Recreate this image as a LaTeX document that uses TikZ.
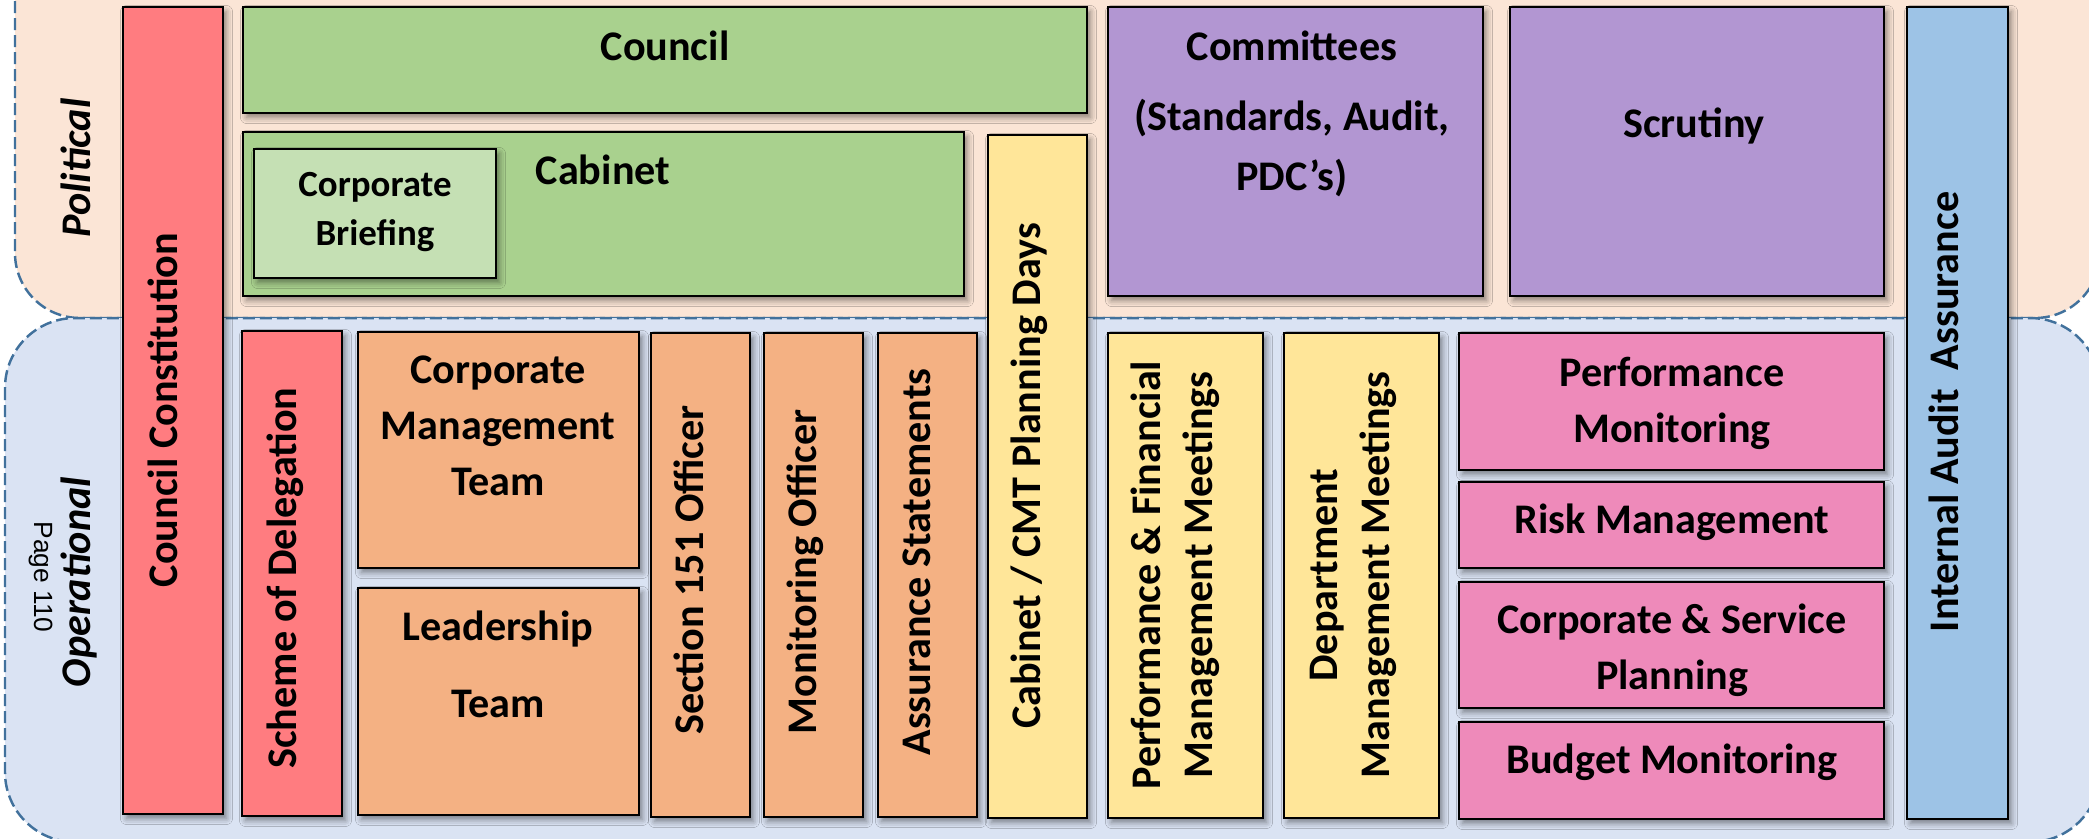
\documentclass[tikz,border=0pt]{standalone}
\usepackage{fontspec}
\setmainfont{Carlito}
\newfontfamily\pagefont{Liberation Sans}
\usetikzlibrary{fit,shadows.blur}
\frenchspacing

\definecolor{polfill}{RGB}{251,229,214}
\definecolor{opfill}{RGB}{218,227,243}
\definecolor{regionline}{RGB}{65,113,156}
\definecolor{redbox}{RGB}{255,124,128}
\definecolor{greenbox}{RGB}{169,209,142}
\definecolor{lightgreen}{RGB}{197,224,180}
\definecolor{purplebox}{RGB}{178,150,210}
\definecolor{yellowbox}{RGB}{255,230,153}
\definecolor{orangebox}{RGB}{244,177,131}
\definecolor{pinkbox}{RGB}{238,138,186}
\definecolor{bluebox}{RGB}{157,195,230}

\tikzset{
  govbox/.style={draw=black, line width=0.7pt, inner sep=0pt,
    blur shadow={shadow xshift=0.35mm, shadow yshift=-0.45mm, shadow blur radius=0.6mm, shadow opacity=45}},
  boxlabel/.style={font=\fontsize{12}{16}\selectfont\bfseries, anchor=base, align=flush center, inner sep=0pt},
  sidelabel/.style={font=\fontsize{12}{14}\selectfont\bfseries\itshape, anchor=base, inner sep=0pt},
  region/.style={draw=regionline, line width=0.7pt, dash pattern=on 1.2mm off 0.5mm},
}

\begin{document}
\begin{tikzpicture}[x=0.1mm, y=-0.1mm]
	\useasboundingbox (0,0) rectangle (2089,838);
	
	% political and operational bands
	\path[region, fill=polfill, rounded corners=6.5mm] (15,-200) rectangle (2100,318);
	\path[region, fill=opfill, rounded corners=7mm] (5,318) rectangle (2100,842);
	
	\node[sidelabel, rotate=90] (political) at (90,168) {Political};
	\node[sidelabel, rotate=90] (operational) at (90,582) {Operational};
	\node[font=\pagefont\fontsize{7.5}{9}\selectfont, rotate=-90, anchor=base, inner sep=0pt] (pageno) at (34,577) {Page 110};
	
	% full height columns
	\node[govbox, fill=redbox, fit={(123,7) (223,814)}] (constitution) {};
	\node[govbox, fill=yellowbox, fit={(988,135) (1087,818)}] (planning) {};
	\node[govbox, fill=bluebox, fit={(1907,7) (2008,819)}] (audit) {};
	
	% political boxes
	\node[govbox, fill=greenbox, fit={(243,7) (1087,113)}] (council) {};
	\node[govbox, fill=greenbox, fit={(243,132) (964,296)}] (cabinet) {};
	\node[govbox, fill=lightgreen, fit={(254,149) (496,278)}] (briefing) {};
	\node[govbox, fill=purplebox, fit={(1108,7) (1483,296)}] (committees) {};
	\node[govbox, fill=purplebox, fit={(1510,7) (1884,296)}] (scrutiny) {};
	
	% operational boxes
	\node[govbox, fill=redbox, fit={(242,331) (342,816)}] (delegation) {};
	\node[govbox, fill=orangebox, fit={(358,332) (639,568)}] (cmt) {};
	\node[govbox, fill=orangebox, fit={(358,588) (639,815)}] (leadership) {};
	\node[govbox, fill=orangebox, fit={(651,333) (750,817)}] (s151) {};
	\node[govbox, fill=orangebox, fit={(764,333) (863,817)}] (monitoring) {};
	\node[govbox, fill=orangebox, fit={(878,333) (977,817)}] (assurance) {};
	\node[govbox, fill=yellowbox, fit={(1108,333) (1263,818)}] (perffin) {};
	\node[govbox, fill=yellowbox, fit={(1284,333) (1439,818)}] (dept) {};
	\node[govbox, fill=pinkbox, fit={(1459,333) (1884,470)}] (perfmon) {};
	\node[govbox, fill=pinkbox, fit={(1459,482) (1884,568)}] (risk) {};
	\node[govbox, fill=pinkbox, fit={(1459,582) (1884,708)}] (corpserv) {};
	\node[govbox, fill=pinkbox, fit={(1459,722) (1884,819)}] (budget) {};
	
	% labels
	\node[boxlabel, rotate=90] (constitution-t) at (177,410) {Council Constitution};
	\node[boxlabel, rotate=90] (planning-t) at (1040,476) {Cabinet / CMT Planning Days};
	\node[boxlabel, rotate=90] (audit-t) at (1958,412) {Internal Audit\ \ Assurance};
	
	\node[boxlabel] (council-t) at (665,60) {Council};
	\node[boxlabel] (cabinet-t) at (603,184) {Cabinet};
	\node[boxlabel, font=\fontsize{10.5}{14.2}\selectfont\bfseries, text width=22mm] (briefing-t) at (375,196) {Corporate\\Briefing};
	\node[boxlabel, font=\fontsize{12}{17}\selectfont\bfseries, text width=35mm] (committees-t) at (1292,60) {Committees\\[3pt](Standards, Audit,\\PDC’s)};
	\node[boxlabel] (scrutiny-t) at (1694,137) {Scrutiny};
	
	\node[boxlabel, rotate=90] (delegation-t) at (296,578) {Scheme of Delegation};
	\node[boxlabel, text width=27mm] (cmt-t) at (498,383) {Corporate\\Management\\Team};
	\node[boxlabel, font=\fontsize{12}{22}\selectfont\bfseries, text width=27mm] (leadership-t) at (498,640) {Leadership\\Team};
	\node[boxlabel, rotate=90] (s151-t) at (703,570) {Section 151 Officer};
	\node[boxlabel, rotate=90] (monitoring-t) at (816,572) {Monitoring Officer};
	\node[boxlabel, rotate=90] (assurance-t) at (930,562) {Assurance Statements};
	\node[boxlabel, rotate=90, font=\fontsize{12}{15}\selectfont\bfseries, text width=48mm] (perffin-t) at (1160,575) {Performance \& Financial\\Management Meetings};
	\node[boxlabel, rotate=90, font=\fontsize{12}{15}\selectfont\bfseries, text width=48mm] (dept-t) at (1337,575) {Department\\Management Meetings};
	\node[boxlabel, font=\fontsize{12}{16.2}\selectfont\bfseries, text width=40mm] (perfmon-t) at (1672,386) {Performance\\Monitoring};
	\node[boxlabel] (risk-t) at (1672,533) {Risk Management};
	\node[boxlabel, font=\fontsize{12}{16.2}\selectfont\bfseries, text width=40mm] (corpserv-t) at (1672,633) {Corporate \& Service\\Planning};
	\node[boxlabel] (budget-t) at (1672,773) {Budget Monitoring};
	
\end{tikzpicture}
\end{document}
